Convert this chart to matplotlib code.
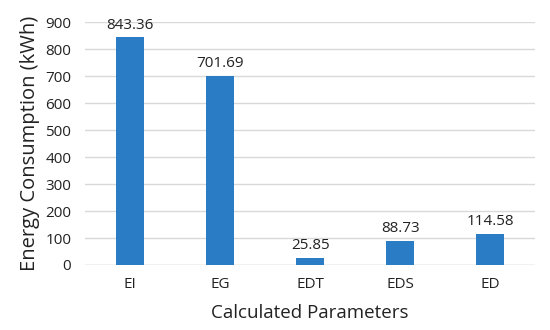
import matplotlib
matplotlib.use("Agg")
import matplotlib.pyplot as plt

categories = ["EI", "EG", "EDT", "EDS", "ED"]
values = [843.36, 701.69, 25.85, 88.73, 114.58]
labels = ["843.36", "701.69", "25.85", "88.73", "114.58"]
yticks = [0, 100, 200, 300, 400, 500, 600, 700, 800, 900]

plt.rcParams['font.family'] = ['Open Sans', 'DejaVu Sans']

fig = plt.figure(figsize=(5.5, 3.3), dpi=100)
ax = fig.add_axes([0.155, 0.197, 0.818, 0.736])

x = range(len(categories))
bars = ax.bar(x, values, width=0.31, color="#2A7DC4", zorder=3)
for xi, v, lab in zip(x, values, labels):
    ax.text(xi, v + 18, lab, ha="center", va="bottom", fontsize=11, color="#222222")

ax.set_xlim(-0.5, len(categories) - 0.5)
ax.set_ylim(0, 900)
ax.set_yticks(yticks)
ax.set_xticks(list(x))
ax.set_xticklabels(categories)
ax.yaxis.grid(True, color="#D9D9D9", linewidth=1, zorder=0)
ax.set_axisbelow(True)
for s in ax.spines.values():
    s.set_visible(False)
ax.axhline(0, color="#D9D9D9", linewidth=1, zorder=1)
ax.tick_params(axis="both", length=0, labelsize=11, colors="#222222")
ax.tick_params(axis="x", pad=9)
ax.tick_params(axis="y", pad=10)
ax.set_ylabel("Energy Consumption (kWh)", fontsize=14.5, color="#222222", labelpad=4)
ax.set_xlabel("Calculated Parameters", fontsize=13.5, color="#222222", labelpad=8)

fig.savefig("out.png", dpi=100)
